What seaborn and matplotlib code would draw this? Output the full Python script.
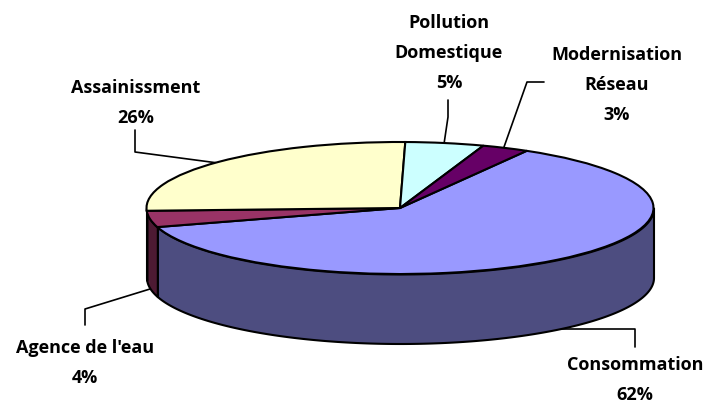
import numpy as np
import seaborn as sns
import matplotlib.pyplot as plt

categories = ["Consommation", "Agence de l'eau", "Assainissment", "Pollution\nDomestique", "Modernisation\nRéseau"]
values = [62, 4, 26, 5, 3]
top_colors = ["#9999ff", "#993366", "#ffffcc", "#ccffff", "#660066"]
side_colors = ["#4d4d80", "#4d1a33", "#808066", "#668080", "#330033"]

sns.set_theme(style="white")
plt.rcParams['font.family'] = ['Open Sans', 'DejaVu Sans']

W, H = 707, 405
CX, CY, RX, RY, DEPTH = 400, 208, 253.5, 66, 69.5
START = 60


def px(x, y):
    return (x - CX) / RX, (CY - y) / RY


fig = plt.figure(figsize=(W / 100, H / 100), dpi=100)
ax = fig.add_axes([0, 0, 1, 1])

# top face, squashed into an ellipse by the axis limits
palette = sns.color_palette(top_colors)
ax.pie(values, colors=palette, startangle=START, counterclock=False, radius=1,
       wedgeprops={'edgecolor': 'black', 'linewidth': 1.5, 'zorder': 3})
ax.set_aspect('auto')
ax.set_xlim(px(0, 0)[0], px(W, 0)[0])
ax.set_ylim(px(0, H)[1], px(0, 0)[1])

# side wall for the slices on the front half
angle = START
for v, c in zip(values, side_colors):
    end = angle - v * 3.6
    a0, a1 = min(angle, 0), max(end, -180)
    if a0 > a1:
        t = np.radians(np.linspace(a0, a1, 200))
        ax.fill_between(np.cos(t), np.sin(t), np.sin(t) - DEPTH / RY,
                        facecolor=c, edgecolor='black', linewidth=1.5, zorder=2)
    angle = end

# leader lines, in pixels of the picture
leaders = [
    [(635, 347), (635, 329), (555, 329)],
    [(85, 325), (85, 309), (150, 289)],
    [(135, 130), (135, 152), (218, 163)],
    [(448, 100), (448, 117), (444, 144)],
    [(544, 82), (527, 82), (504, 147)],
]
for pts in leaders:
    xy = np.array([px(*p) for p in pts])
    ax.plot(xy[:, 0], xy[:, 1], color='black', lw=1.2, zorder=1)

label_pos = [(635, 380), (85, 363), (136, 103), (449, 53), (617, 85)]
for name, v, p in zip(categories, values, label_pos):
    x, y = px(*p)
    ax.text(x, y, f"{name}\n{v}%", ha='center', va='center', fontsize=13,
            fontweight='bold', color='black', linespacing=1.88, zorder=5)

fig.savefig('out.png', dpi=100)
